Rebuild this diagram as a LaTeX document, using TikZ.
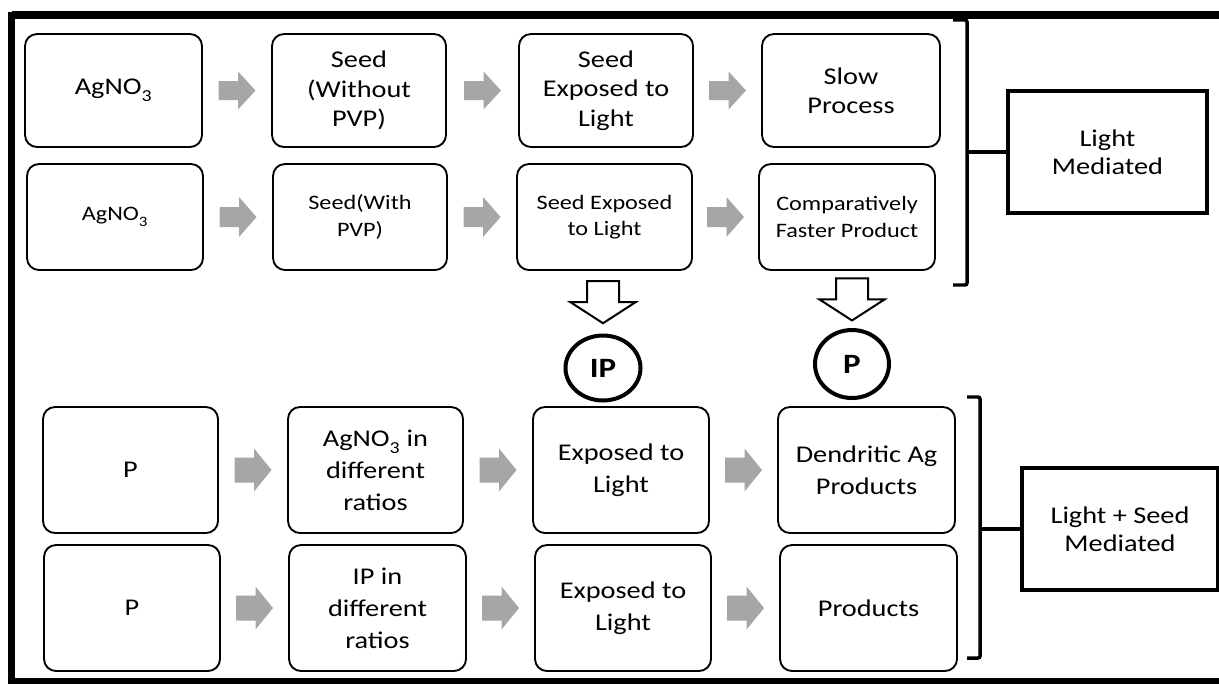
\documentclass[tikz,border=0pt]{standalone}
\usepackage{fontspec}
\setmainfont{Carlito}[FakeStretch=1.18]
\usetikzlibrary{calc,shapes.geometric}
\definecolor{arrgray}{HTML}{A6A6A6}
\newcommand{\subthree}{\raisebox{-0.3ex}{\textsubscript{3}}}
\newcommand{\boxat}[7]{\node[#2, minimum width={(#5-#3)*0.75pt}, minimum height={(#6-#4)*0.75pt}] (#1) at ({(#3+#5)/2},{(#4+#6)/2}) {#7};}
\newcommand{\grayarr}[4]{%
  \path ($(#1.east)!0.5!(#2.west)$) coordinate (ga);
  \fill[arrgray] ($(ga)+(-18.5,-#4)$) -- ($(ga)+(1,-#4)$) -- ($(ga)+(1,-#3)$) -- ($(ga)+(18.5,0)$) -- ($(ga)+(1,#3)$) -- ($(ga)+(1,#4)$) -- ($(ga)+(-18.5,#4)$) -- cycle;}
\newcommand{\hollowarr}[1]{%
  \draw[downarr] ($(#1)+(-16,-21)$) -- ($(#1)+(16,-21)$) -- ($(#1)+(16,0)$) -- ($(#1)+(32.5,0)$) -- ($(#1)+(0,21)$) -- ($(#1)+(-32.5,0)$) -- ($(#1)+(-16,0)$) -- cycle;}
\begin{document}
\begin{tikzpicture}[x=0.75pt,y=-0.75pt,
  box/.style={draw, rounded corners=9pt, line width=1.4pt, inner sep=0pt, align=center},
  rowa/.style={box, font=\fontsize{18}{22}\selectfont},
  rowb/.style={box, font=\fontsize{15.4}{20}\selectfont},
  rowc/.style={box, font=\fontsize{18}{24}\selectfont},
  side/.style={draw, line width=3pt, inner sep=0pt, align=center, font=\fontsize{18}{21}\selectfont},
  circ/.style={ellipse, draw, line width=3pt, inner sep=0pt, font=\bfseries\fontsize{21}{21}\selectfont},
  downarr/.style={draw, fill=white, line width=1.5pt, line join=miter},
  bracket/.style={line width=2.6pt, rounded corners=1.5pt}]
\useasboundingbox (0,0) rectangle (1219,683);
\fill[white] (0,0) rectangle (1219,683);
% outer frame
\draw[line width=5.6pt] (11.5,15) -- (1240,15);
\draw[line width=5.6pt] (11.5,12) -- (11.5,681.5);
\draw[line width=5.6pt] (8,681.5) -- (1240,681.5);
% row 1
\boxat{A1}{rowa}{25}{34}{202}{147}{AgNO\subthree}
\boxat{A2}{rowa}{272}{34}{446}{147}{Seed\\(Without\\PVP)}
\boxat{A3}{rowa}{519}{34}{693}{147}{Seed\\Exposed to\\Light}
\boxat{A4}{rowa}{762}{34}{940}{147}{Slow\\Process}
% row 2
\boxat{B1}{rowb}{27}{164}{203}{270}{AgNO\subthree}
\boxat{B2}{rowb}{273}{164}{447}{270}{Seed(With\\PVP)}
\boxat{B3}{rowb}{517}{164}{692}{270}{Seed Exposed\\to Light}
\boxat{B4}{rowb}{759}{164}{935}{270}{Comparatively\\Faster Product}
% row 3
\boxat{C1}{rowc}{43}{407}{218}{533}{P}
\boxat{C2}{rowc}{288}{407}{463}{533}{AgNO\subthree{} in\\different\\ratios}
\boxat{C3}{rowc}{533}{407}{709}{533}{Exposed to\\Light}
\boxat{C4}{rowc}{778}{407}{955}{533}{Dendritic Ag\\Products}
% row 4
\boxat{D1}{rowc}{44}{545}{220}{671}{P}
\boxat{D2}{rowc}{289}{545}{466}{671}{IP in\\different\\ratios}
\boxat{D3}{rowc}{535}{545}{711}{671}{Exposed to\\Light}
\boxat{D4}{rowc}{780}{545}{957}{671}{Products}
% gray arrows
\grayarr{A1}{A2}{19}{9.5}
\grayarr{A2}{A3}{19}{9.5}
\grayarr{A3}{A4}{19}{9.5}
\grayarr{B1}{B2}{20}{10}
\grayarr{B2}{B3}{20}{10}
\grayarr{B3}{B4}{20}{10}
\grayarr{C1}{C2}{21.5}{12.5}
\grayarr{C2}{C3}{21.5}{12.5}
\grayarr{C3}{C4}{21.5}{12.5}
\grayarr{D1}{D2}{21.5}{12.5}
\grayarr{D2}{D3}{21.5}{12.5}
\grayarr{D3}{D4}{21.5}{12.5}
% circles
\node[circ, minimum width={75*0.75pt}, minimum height={65*0.75pt}] (IPc) at (603,368) {IP};
\node[circ, minimum width={74*0.75pt}, minimum height={68*0.75pt}] (Pc) at (852,364) {P};
% hollow down arrows
\coordinate (m1t) at ($(B3.south)!0.5!(IPc.north)$);
\coordinate (m1) at (IPc.north |- m1t);
\hollowarr{m1}
\coordinate (m2t) at ($(B4.south)!0.5!(Pc.north)$);
\coordinate (m2) at (Pc.north |- m2t);
\hollowarr{m2}
% side boxes
\node[side, minimum width={199*0.75pt}, minimum height={122*0.75pt}] (LM) at (1107.5,152) {Light\\Mediated};
\node[side, minimum width={196*0.75pt}, minimum height={122*0.75pt}] (LS) at (1120,529) {Light + Seed\\Mediated};
% brackets
\draw[bracket] (953,20) -- (967,20) -- (967,285) -- (953,285);
\draw[bracket] (967,152) -- (LM.west);
\draw[bracket] (967,397) -- (980,397) -- (980,658) -- (967,658);
\draw[bracket] (980,529) -- (LS.west);
\end{tikzpicture}
\end{document}
